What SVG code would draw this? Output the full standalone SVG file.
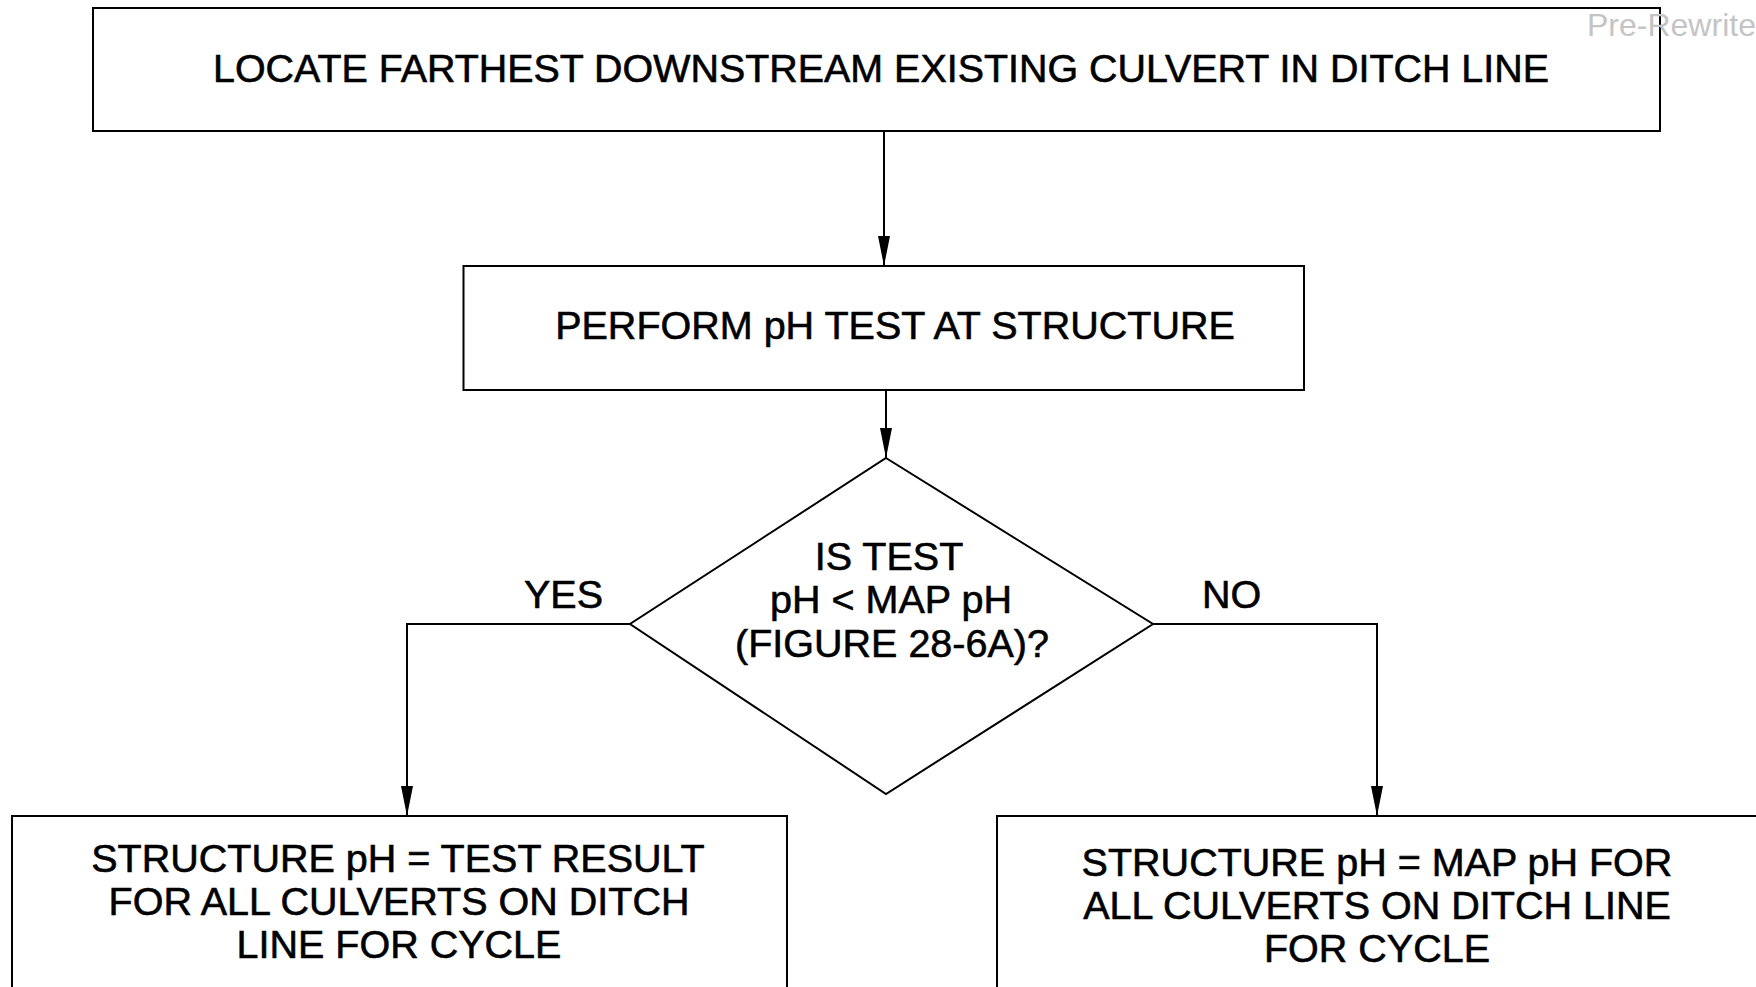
<svg xmlns="http://www.w3.org/2000/svg" width="1756" height="987" viewBox="0 0 1756 987">
  <style>
    .box { fill: #ffffff; stroke: #000000; stroke-width: 2; }
    .wire { fill: none; stroke: #000000; stroke-width: 2; }
    .lbl { font-family: "Liberation Sans", Arial, sans-serif; font-size: 39.5px; fill: #000000; stroke: #000000; stroke-width: 0.6; text-anchor: middle; }
    .tag { font-family: "Liberation Sans", Arial, sans-serif; font-size: 39.5px; fill: #000000; stroke: #000000; stroke-width: 0.6; text-anchor: start; }
    .mark { font-family: "Liberation Sans", Arial, sans-serif; font-size: 32px; fill: #c4c4c4; }
  </style>
  <defs>
    <marker id="arrow" viewBox="0 -7 30 14" refX="30" refY="0" markerWidth="30" markerHeight="14" markerUnits="userSpaceOnUse" orient="auto">
      <path d="M0,-6 Q-1,0 0,6 L30,0 Z" fill="#000000"/>
    </marker>
  </defs>
  <rect width="1756" height="987" fill="#ffffff"/>

  <!-- flow connectors -->
  <g id="connectors">
    <path class="wire" d="M884,131 V266" marker-end="url(#arrow)"/>
    <path class="wire" d="M886,390 V458" marker-end="url(#arrow)"/>
    <path class="wire" d="M630,624 H407 V816" marker-end="url(#arrow)"/>
    <path class="wire" d="M1153,624 H1377 V816" marker-end="url(#arrow)"/>
    <text class="tag" x="524" y="608">YES</text>
    <text class="tag" x="1202" y="608">NO</text>
  </g>

  <g id="locate">
    <rect class="box" x="93" y="8" width="1567" height="123"/>
    <text class="lbl" x="881" y="82" textLength="1336" lengthAdjust="spacingAndGlyphs">LOCATE FARTHEST DOWNSTREAM EXISTING CULVERT IN DITCH LINE</text>
  </g>

  <g id="perform-test">
    <rect class="box" x="463.5" y="266" width="840.5" height="124"/>
    <text class="lbl" x="895" y="339">PERFORM pH TEST AT STRUCTURE</text>
  </g>

  <g id="decision">
    <polygon class="box" points="886,458 1153,624 886,794 630,624"/>
    <text class="lbl" x="889" y="570">IS TEST</text>
    <text class="lbl" x="891" y="613">pH &lt; MAP pH</text>
    <text class="lbl" x="892" y="657">(FIGURE 28-6A)?</text>
  </g>

  <g id="use-test">
    <rect class="box" x="12" y="816" width="775" height="200"/>
    <text class="lbl" x="398" y="872">STRUCTURE pH = TEST RESULT</text>
    <text class="lbl" x="399" y="915">FOR ALL CULVERTS ON DITCH</text>
    <text class="lbl" x="399" y="958">LINE FOR CYCLE</text>
  </g>

  <g id="use-map">
    <rect class="box" x="997" y="816" width="800" height="200"/>
    <text class="lbl" x="1377" y="876">STRUCTURE pH = MAP pH FOR</text>
    <text class="lbl" x="1377" y="919">ALL CULVERTS ON DITCH LINE</text>
    <text class="lbl" x="1377" y="962">FOR CYCLE</text>
  </g>

  <text class="mark" x="1587" y="36">Pre-Rewrite</text>
</svg>
